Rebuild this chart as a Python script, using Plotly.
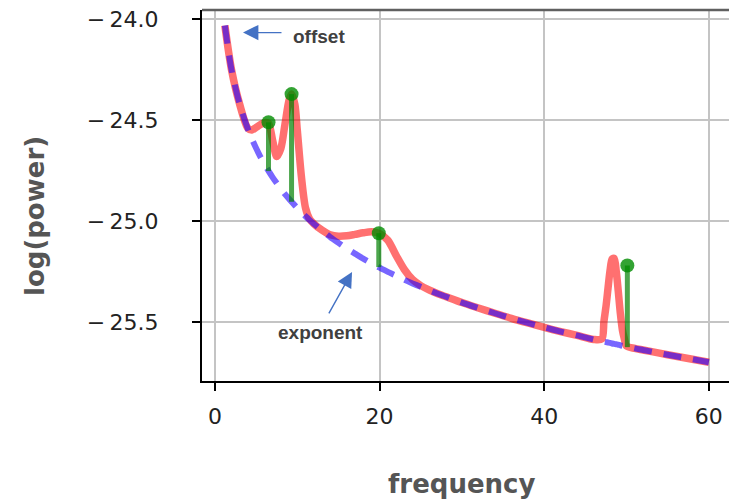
import plotly.graph_objects as go

# ---- data ----
freqs = [1.2, 2, 3, 4, 4.5, 5, 5.5, 6, 6.5, 7, 7.5, 8, 8.5, 9, 9.3, 9.7, 10, 10.5, 11, 11.5,
         12, 13, 14, 15, 16, 17, 18, 19, 20, 21, 22, 23, 24, 25, 26, 27, 28, 30, 32, 34, 36,
         38, 40, 42, 44, 46, 47, 47.25, 47.5, 47.75, 48, 48.25, 48.5, 48.75, 49, 49.25, 49.5,
         49.75, 50, 51, 52, 54, 56, 58, 60]

aperiodic_fit = [-24.030, -24.248, -24.421, -24.544, -24.594, -24.639, -24.680, -24.717, -24.751,
                 -24.783, -24.812, -24.840, -24.866, -24.890, -24.904, -24.922, -24.935, -24.956,
                 -24.976, -24.995, -25.013, -25.047, -25.079, -25.108, -25.136, -25.161, -25.186,
                 -25.209, -25.231, -25.252, -25.271, -25.291, -25.309, -25.326, -25.343, -25.359,
                 -25.374, -25.404, -25.431, -25.457, -25.482, -25.505, -25.527, -25.548, -25.567,
                 -25.587, -25.596, -25.598, -25.600, -25.602, -25.604, -25.607, -25.609, -25.611,
                 -25.613, -25.616, -25.618, -25.620, -25.622, -25.631, -25.639, -25.655, -25.670,
                 -25.685, -25.700]

model_fit = [-24.030, -24.248, -24.421, -24.540, -24.548, -24.535, -24.522, -24.512, -24.515,
             -24.600, -24.680, -24.640, -24.520, -24.400, -24.370, -24.420, -24.550, -24.780,
             -24.935, -24.990, -25.013, -25.045, -25.068, -25.075, -25.073, -25.066, -25.058,
             -25.053, -25.062, -25.095, -25.170, -25.240, -25.290, -25.320, -25.341, -25.359,
             -25.374, -25.404, -25.431, -25.457, -25.482, -25.505, -25.527, -25.548, -25.567,
             -25.587, -25.585, -25.499, -25.425, -25.333, -25.244, -25.188, -25.185, -25.249,
             -25.350, -25.458, -25.540, -25.586, -25.620, -25.631, -25.639, -25.655, -25.670,
             -25.685, -25.700]

peak_freqs = [6.5, 9.3, 19.9, 50.1]
peak_tops = [-24.51, -24.37, -25.06, -25.22]
peak_bases = [-24.752, -24.904, -25.228, -25.625]

x_ticks = [0, 20, 40, 60]
y_ticks = [-24.0, -24.5, -25.0, -25.5]
y_ticktext = ["\u2212\u200924.0", "\u2212\u200924.5", "\u2212\u200925.0", "\u2212\u200925.5"]

# ---- figure ----
fig = go.Figure()

fig.add_trace(go.Scatter(
    x=freqs, y=model_fit, mode="lines",
    line=dict(color="rgba(255,0,0,0.56)", width=7.5, shape="spline", smoothing=0.8),
    hoverinfo="skip"))

fig.add_trace(go.Scatter(
    x=freqs, y=aperiodic_fit, mode="lines",
    line=dict(color="rgba(30,0,255,0.6)", width=6, dash="18px,12px", shape="spline", smoothing=0.8),
    hoverinfo="skip"))

stem_x, stem_y = [], []
for f, t, b in zip(peak_freqs, peak_tops, peak_bases):
    stem_x += [f, f, None]
    stem_y += [b, t, None]

fig.add_trace(go.Scatter(
    x=stem_x, y=stem_y, mode="lines",
    line=dict(color="rgba(0,128,0,0.7)", width=5), hoverinfo="skip"))

fig.add_trace(go.Scatter(
    x=peak_freqs, y=peak_tops, mode="markers",
    marker=dict(color="rgba(0,140,0,0.8)", size=14, line=dict(width=0)), hoverinfo="skip"))

tickfont = dict(family="DejaVu Sans", size=22, color="#222222")

fig.update_layout(
    width=729, height=500,
    margin=dict(l=202, r=0, t=10, b=119),
    paper_bgcolor="white", plot_bgcolor="white",
    showlegend=False,
    xaxis=dict(
        range=[-1.58, 62.45], tickvals=x_ticks, ticktext=[str(v) for v in x_ticks],
        showgrid=True, gridcolor="#c4c4c4", gridwidth=2, zeroline=False,
        showline=True, linecolor="black", linewidth=2,
        ticks="outside", ticklen=8, tickwidth=2, tickcolor="black",
        tickfont=tickfont, ticklabelstandoff=7),
    yaxis=dict(
        range=[-25.793, -23.953], tickvals=y_ticks, ticktext=y_ticktext,
        showgrid=True, gridcolor="#c4c4c4", gridwidth=2, zeroline=False,
        showline=True, linecolor="black", linewidth=2,
        ticks="outside", ticklen=8, tickwidth=2, tickcolor="black",
        tickfont=tickfont, ticklabelstandoff=29),
    shapes=[dict(type="line", xref="paper", yref="paper", x0=0, x1=1, y0=1, y1=1,
                 line=dict(color="#606060", width=2.5))],
)

label_font = dict(family="DejaVu Sans", size=26, color="#555555")
note_font = dict(family="Liberation Sans", size=19, color="#404040")

fig.add_annotation(text="<b>frequency</b>", xref="paper", yref="paper", x=0.4915, y=-0.2776,
                   showarrow=False, font=label_font, xanchor="center", yanchor="middle")
fig.add_annotation(text="<b>log(power)</b>", xref="paper", yref="paper", x=-0.3169, y=0.4447,
                   showarrow=False, font=label_font, textangle=-90, xanchor="center", yanchor="middle")

fig.add_annotation(text="<b>offset</b>", x=12.64, y=-24.084, showarrow=False, font=note_font,
                   xanchor="center", yanchor="middle")
fig.add_annotation(text="<b>exponent</b>", x=12.76, y=-25.55, showarrow=False, font=note_font,
                   xanchor="center", yanchor="middle")

fig.add_annotation(text="", x=3.40, y=-24.065, ax=40, ay=0, showarrow=True,
                   arrowhead=2, arrowsize=2.2, arrowwidth=1.4, arrowcolor="#4472C4", standoff=0)
fig.add_annotation(text="", x=16.65, y=-25.252, ax=-24, ay=43, showarrow=True,
                   arrowhead=2, arrowsize=2.2, arrowwidth=1.4, arrowcolor="#4472C4", standoff=0)

fig.write_html("out.html")
